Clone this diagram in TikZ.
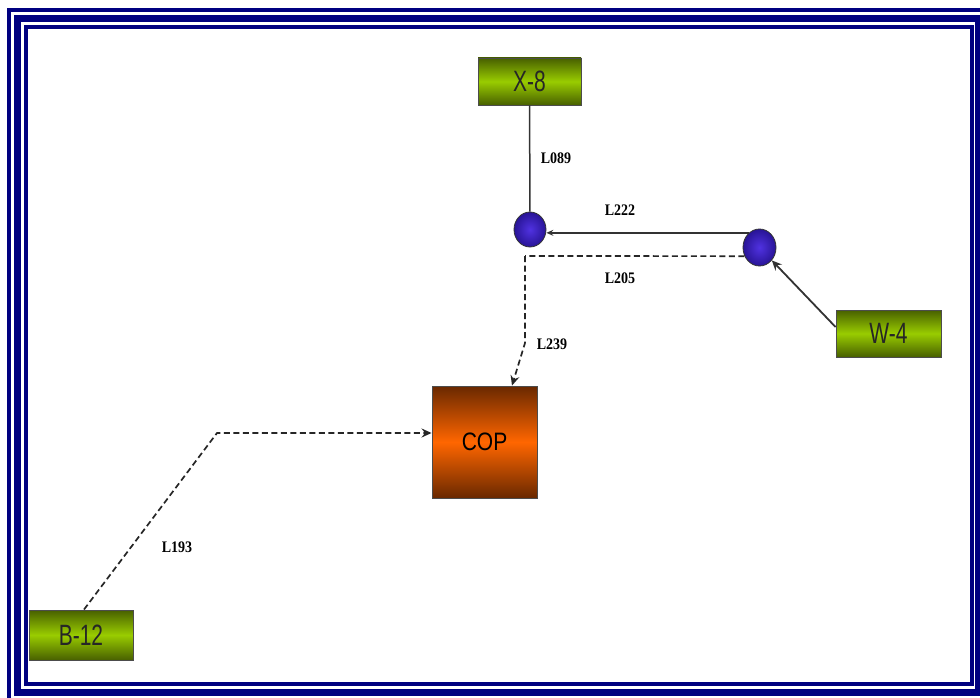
\documentclass[tikz,border=0pt]{standalone}
\usepackage{fontspec}
\usepackage{graphicx}
\setmainfont{Liberation Sans}
\newfontfamily\lblfont{Liberation Serif}
\usetikzlibrary{shapes.geometric,arrows.meta,calc}
\definecolor{navyb}{RGB}{0,0,128}
\definecolor{olivd}{RGB}{72,96,0}
\definecolor{limeg}{RGB}{153,204,0}
\definecolor{orgd}{RGB}{105,40,0}
\definecolor{orgm}{RGB}{255,102,0}
\definecolor{ballc}{RGB}{80,50,225}
\definecolor{balld}{RGB}{40,20,150}
\begin{document}
\begin{tikzpicture}[x=1pt,y=-1pt,
  gbox/.style={draw=black!70, line width=0.9pt, top color=olivd, bottom color=olivd, middle color=limeg,
    minimum width=103pt, minimum height=47pt, inner sep=0pt, text=black!85,
    font=\fontsize{21}{21}\selectfont},
  obox/.style={draw=black!70, line width=0.9pt, top color=orgd, bottom color=orgd, middle color=orgm,
    minimum width=105pt, minimum height=112pt, inner sep=0pt, text=black,
    font=\fontsize{21}{21}\selectfont},
  ball/.style={ellipse, draw=black!80, line width=0.8pt, inner color=ballc, outer color=balld, inner sep=0pt},
  lbl/.style={font=\lblfont\bfseries\fontsize{14}{14}\selectfont, inner sep=0pt},
  conn/.style={draw=black!80, line width=1.5pt},
  dconn/.style={draw=black!85, line width=1.7pt, dash pattern=on 6pt off 3.5pt},
  tip/.style={-{Stealth[length=10pt,width=9pt,inset=3.5pt]}},
  smalltip/.style={-{Stealth[length=7pt,width=6pt,inset=2.5pt]}}
]
\useasboundingbox (0,0) rectangle (980,698);
\clip (0,0) rectangle (980,698);
\fill[white] (0,0) rectangle (980,698);
% frame
\draw[navyb, line width=4pt] (9,10) rectangle (1000,720);
\draw[navyb, line width=7pt] (17.5,18.5) rectangle (978.5,692.5);
\draw[navyb, line width=4pt] (26,27) rectangle (972,684);

% nodes
\node[gbox] (x8) at (529.5,81.5) {\scalebox{1}[1.4]{X-8}};
\node[gbox, minimum width=105pt] (w4) at (888.5,333.5) {\scalebox{1}[1.4]{W-4}};
\node[gbox, minimum width=104pt, minimum height=50pt] (b12) at (81,635) {\scalebox{1}[1.4]{B-12}};
\node[obox] (cop) at (484.5,442) {\scalebox{1}[1.2]{COP}};
\node[ball, minimum width=32pt, minimum height=35pt] (c1) at (530,229.5) {};
\node[ball, minimum width=33pt, minimum height=37pt] (c2) at (759.5,247.5) {};

\coordinate (j) at (525,256);
\coordinate (k) at (525,343);
\coordinate (m) at (217,433);

% connectors
\draw[conn] (x8) -- (c1);
\draw[conn, smalltip] (c2.126) -- (c2.126 -| c1.east);
\draw[dconn] (c2.210) -- (j);
\draw[dconn, tip] (j) -- (k) -- ($(cop.north)+(27.5,0)$);
\draw[conn, line width=1.8pt, tip] ($(w4.west)+(0,-6.5)$) -- (c2);
\draw[dconn, tip] ($(b12.north)+(3,0)$) -- (m) -- (m -| cop.west);

% labels
\node[lbl] (l089) at (556,158) {\scalebox{1}[1.15]{L089}};
\node[lbl] (l222) at (620,210) {\scalebox{1}[1.15]{L222}};
\node[lbl] (l205) at (620,278) {\scalebox{1}[1.15]{L205}};
\node[lbl] (l239) at (552,344) {\scalebox{1}[1.15]{L239}};
\node[lbl] (l193) at (177,547) {\scalebox{1}[1.15]{L193}};
\end{tikzpicture}
\end{document}
